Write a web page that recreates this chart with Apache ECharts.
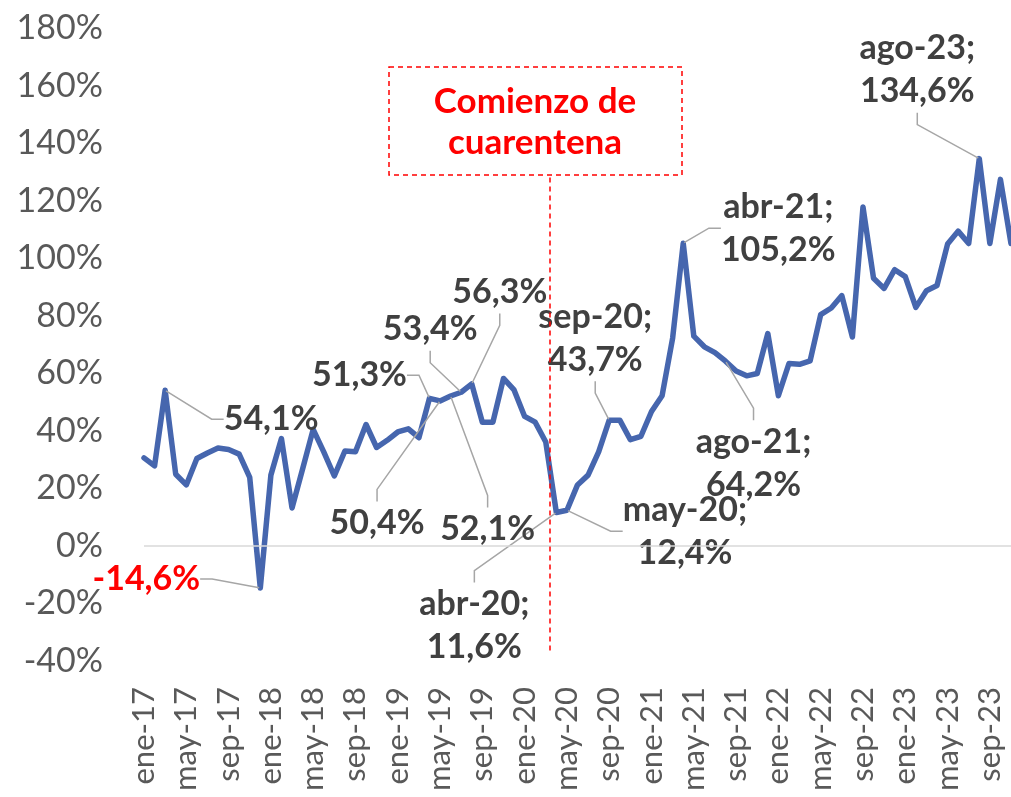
<!DOCTYPE html>
<html>
<head>
<meta charset="utf-8">
<script src="https://cdn.jsdelivr.net/npm/echarts@6/dist/echarts.min.js"></script>
<style>
  html, body { margin: 0; padding: 0; background: #fff; }
  #chart { width: 1011px; height: 797px; }
</style>
</head>
<body>
<div id="chart"></div>
<script>
// eje X: meses de ene-17 a nov-23
const monthNames = ['ene', 'feb', 'mar', 'abr', 'may', 'jun', 'jul', 'ago', 'sep', 'oct', 'nov', 'dic']
const years = ['17', '18', '19', '20', '21', '22', '23']
const categories = []
years.forEach(y => monthNames.forEach(m => categories.push(m + '-' + y)))
categories.length = 83

// variación interanual (%)
const values = [
  30.6, 27.8, 54.1, 24.9, 21.2, 30.4, 32.3, 34.0, 33.5, 31.9, 23.8, -14.6,
  24.6, 37.3, 13.2, 26.7, 40.5, 32.7, 24.3, 33.0, 32.7, 42.2, 34.2, 36.7,
  39.6, 40.7, 37.6, 51.3, 50.4, 52.1, 53.4, 56.3, 43.0, 43.0, 58.2, 54.2,
  45.0, 43.0, 36.1, 11.6, 12.4, 21.2, 24.6, 32.7, 43.7, 43.7, 36.9, 38.1,
  46.7, 52.2, 72.3, 105.2, 72.9, 69.2, 67.2, 64.2, 60.8, 59.1, 59.9, 73.8,
  52.2, 63.4, 63.1, 64.3, 80.4, 82.7, 87.0, 72.6, 117.8, 93.0, 89.5, 96.0,
  93.6, 82.9, 88.7, 90.5, 104.9, 109.4, 105.1, 134.6, 105.1, 127.4, 105.1
]

// puntos con etiqueta
const labeledPoints = [2, 11, 27, 28, 29, 30, 31, 39, 40, 44, 51, 55, 79]
const labelsWithName = [39, 40, 44, 51, 55, 79]
const redLabels = [11]

// desplazamiento de cada etiqueta respecto del punto (px)
const labelOffsets = {
  2: [106, 29], 11: [-114, -9], 27: [-70, -23], 28: [-63, 122], 29: [37, 133],
  30: [-31, -63], 31: [28, -92], 39: [-82, 113], 40: [118, 21], 44: [-14, -82],
  51: [95, -15], 55: [28, 102], 79: [-62, -89]
}

// inicio de cuarentena (posición en meses) y extremos de la línea
const quarantineX = 38.4
const quarantineTop = 128
const quarantineBottom = -37

const fmt = v => v.toFixed(1).replace('.', ',') + '%'

const chart = echarts.init(document.getElementById('chart'))

const seriesData = values.map((v, i) => {
  if (!labeledPoints.includes(i)) return v
  return {
    value: v,
    label: { show: true, color: redLabels.includes(i) ? '#FF0000' : '#404040' },
    labelLine: { show: true }
  }
})

chart.setOption({
  animation: false,
  grid: { left: 144, right: 0, top: 28, bottom: 136 },
  xAxis: [
    {
      type: 'category',
      data: categories,
      boundaryGap: false,
      axisLine: { show: false },
      axisTick: { show: false },
      axisLabel: {
        interval: 3,
        rotate: 90,
        margin: 26,
        color: '#595959',
        fontFamily: 'Lato',
        fontSize: 31
      }
    },
    {
      type: 'value',
      min: 0,
      max: categories.length - 1,
      show: false
    }
  ],
  yAxis: {
    type: 'value',
    min: -40,
    max: 180,
    interval: 20,
    axisLine: { show: false },
    axisTick: { show: false },
    splitLine: { show: false },
    axisLabel: {
      formatter: '{value}%',
      margin: 41,
      color: '#595959',
      fontFamily: 'Lato',
      fontSize: 34
    }
  },
  graphic: [
    {
      type: 'rect',
      shape: { x: 389, y: 67, width: 293, height: 108 },
      style: { fill: '#fff', stroke: '#FF0000', lineWidth: 1.5, lineDash: [5, 4] },
      z: 10
    },
    {
      type: 'text',
      x: 535,
      y: 122,
      style: {
        text: 'Comienzo de\ncuarentena',
        fill: '#FF0000',
        font: 'bold 35px Lato',
        lineHeight: 41,
        align: 'center',
        verticalAlign: 'middle'
      },
      z: 11
    }
  ],
  series: [
    {
      type: 'line',
      data: seriesData,
      symbol: 'circle',
      symbolSize: 2,
      showAllSymbol: true,
      lineStyle: { color: '#4666AE', width: 5.5, cap: 'round', join: 'round' },
      itemStyle: { color: '#4666AE' },
      z: 3,
      label: {
        show: false,
        fontFamily: 'Lato',
        fontWeight: 'bold',
        fontSize: 34,
        lineHeight: 43,
        color: '#404040',
        formatter: p => labelsWithName.includes(p.dataIndex) ? p.name + ';\n' + fmt(p.value) : fmt(p.value)
      },
      labelLine: {
        show: false,
        length2: 12,
        lineStyle: { color: '#A6A6A6', width: 1.5 }
      },
      labelLayout: p => {
        const off = labelOffsets[p.dataIndex]
        if (!off) return {}
        return {
          x: p.rect.x + p.rect.width / 2 + off[0],
          y: p.rect.y + p.rect.height / 2 + off[1],
          align: 'center',
          verticalAlign: 'middle'
        }
      },
      markLine: {
        silent: true,
        symbol: 'none',
        label: { show: false },
        data: [{ yAxis: 0, lineStyle: { color: '#D9D9D9', width: 1.5, type: 'solid' } }]
      }
    },
    {
      type: 'line',
      xAxisIndex: 1,
      data: [],
      markLine: {
        silent: true,
        symbol: 'none',
        label: { show: false },
        lineStyle: { color: '#FF0000', width: 1.5, type: [5, 4] },
        data: [[
          { coord: [quarantineX, quarantineTop] },
          { coord: [quarantineX, quarantineBottom] }
        ]]
      }
    }
  ]
})
</script>
</body>
</html>
